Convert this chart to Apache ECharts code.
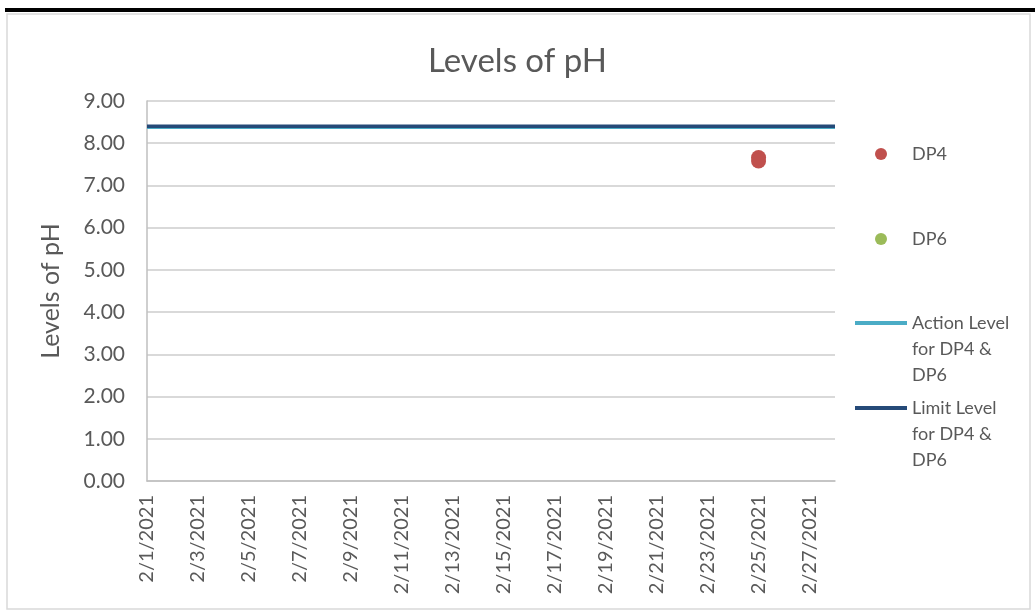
<!DOCTYPE html>
<html>
<head>
<meta charset="utf-8">
<script src="https://cdn.jsdelivr.net/npm/echarts@6/dist/echarts.min.js"></script>
<style>
html,body{margin:0;padding:0;background:#fff;}
#chart{width:1035px;height:616px;}
</style>
</head>
<body>
<div id="chart"></div>
<script>
const dates = ['2/1/2021','2/2/2021','2/3/2021','2/4/2021','2/5/2021','2/6/2021','2/7/2021',
  '2/8/2021','2/9/2021','2/10/2021','2/11/2021','2/12/2021','2/13/2021','2/14/2021',
  '2/15/2021','2/16/2021','2/17/2021','2/18/2021','2/19/2021','2/20/2021','2/21/2021',
  '2/22/2021','2/23/2021','2/24/2021','2/25/2021','2/26/2021','2/27/2021','2/28/2021'];
const dp4Dates = ['2/25/2021','2/25/2021'];
const dp4Values = [7.66, 7.58];
const dp6Dates = [];
const dp6Values = [];
const actionLevel = 8.38;
const limitLevel = 8.4;
const yTicks = [0,1,2,3,4,5,6,7,8,9];

const FONT = 'Lato';
const TXT = '#595959';
const chart = echarts.init(document.getElementById('chart'), null, {renderer:'canvas'});

const legendBase = {
  orient: 'vertical', itemWidth: 52, itemGap: 0,
  textStyle: {fontFamily: FONT, fontSize: 18, color: TXT, lineHeight: 26},
  selectedMode: false
};

chart.setOption({
  animation: false,
  backgroundColor: '#fff',
  title: {
    text: 'Levels of pH', left: 'center', top: 40,
    textStyle: {fontFamily: FONT, fontSize: 33, fontWeight: 'normal', color: TXT}
  },
  graphic: [
    {type:'rect', shape:{x:7,y:14,width:1023,height:595}, style:{fill:'none', stroke:'#d9d9d9', lineWidth:1.5}, z:-1},
    {type:'rect', shape:{x:5,y:8,width:1030,height:4}, style:{fill:'#000'}}
  ],
  legend: [
    Object.assign({}, legendBase, {left: 870, top: 136, itemHeight: 12, data:[{name:'DP4', icon:'circle'}]}),
    Object.assign({}, legendBase, {left: 870, top: 221, itemHeight: 12, data:[{name:'DP6', icon:'circle'}]}),
    Object.assign({}, legendBase, {left: 850, top: 253, itemHeight: 4,
      formatter: n => '\n\n' + n,
      data:[{name:'Action Level\nfor DP4 &\nDP6', icon:'rect'}]}),
    Object.assign({}, legendBase, {left: 850, top: 338, itemHeight: 4,
      formatter: n => '\n\n' + n,
      data:[{name:'Limit Level\nfor DP4 &\nDP6', icon:'rect'}]})
  ],
  grid: {left: 147, right: 200, top: 101, bottom: 135, containLabel: false},
  xAxis: {
    type: 'category', data: dates, boundaryGap: false,
    axisLine: {show: true, lineStyle: {color: '#bfbfbf', width: 1.5}},
    axisTick: {show: false},
    axisLabel: {interval: 1, rotate: 90, margin: 14, fontFamily: FONT, fontSize: 20, color: TXT},
    splitLine: {show: false}
  },
  yAxis: {
    type: 'value', min: 0, max: 9, interval: 1,
    name: 'Levels of pH', nameLocation: 'middle', nameGap: 84, nameRotate: 90,
    nameTextStyle: {fontFamily: FONT, fontSize: 25, color: TXT},
    axisLine: {show: true, lineStyle: {color: '#bfbfbf', width: 1.5}},
    axisTick: {show: false},
    axisLabel: {margin: 22, fontFamily: FONT, fontSize: 21, color: TXT,
      formatter: v => yTicks.includes(v) ? v.toFixed(2) : ''},
    splitLine: {show: true, lineStyle: {color: '#d9d9d9', width: 2}}
  },
  series: [
    {name:'DP4', type:'scatter', symbol:'circle', symbolSize:15,
      itemStyle:{color:'#C0504D', opacity:1},
      data: dp4Dates.map((d,i)=>[d, dp4Values[i]]), z:5},
    {name:'DP6', type:'scatter', symbol:'circle', symbolSize:15,
      itemStyle:{color:'#9BBB59', opacity:1},
      data: dp6Dates.map((d,i)=>[d, dp6Values[i]]), z:5},
    {name:'Action Level\nfor DP4 &\nDP6', type:'line', showSymbol:false, symbol:'none',
      itemStyle:{color:'#4BACC6'}, lineStyle:{color:'#4BACC6', width:3.5},
      data: dates.map(()=>actionLevel), z:3},
    {name:'Limit Level\nfor DP4 &\nDP6', type:'line', showSymbol:false, symbol:'none',
      itemStyle:{color:'#254A78'}, lineStyle:{color:'#254A78', width:3.5},
      data: dates.map(()=>limitLevel), z:4}
  ]
});
</script>
</body>
</html>
